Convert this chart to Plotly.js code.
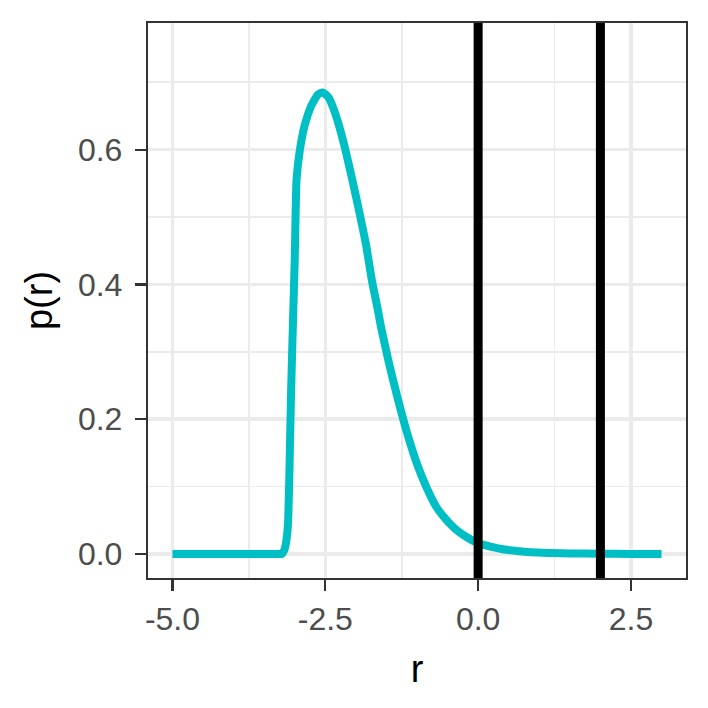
<!DOCTYPE html>
<html>
<head>
<meta charset="utf-8">
<script src="https://cdn.plot.ly/plotly-3.0.1.min.js"></script>
<style>html,body{margin:0;padding:0;background:#fff;}#chart{width:708px;height:708px;}</style>
</head>
<body>
<div id="chart"></div>
<script>
// Density curve p(r)
var rValues = [-5, -4.5, -4, -3.6, -3.3, -3.21, -3.17, -3.14, -3.11, -3.085, -3.06, -3.03, -3.0, -2.97, -2.92, -2.84, -2.73, -2.62, -2.54, -2.45, -2.37, -2.28, -2.18, -2.06, -1.94, -1.83, -1.74, -1.64, -1.585, -1.45, -1.31, -1.16, -0.985, -0.85, -0.686, -0.58, -0.47, -0.32, -0.17, 0, 0.2, 0.38, 0.8, 1.5, 2, 2.5, 3];
var pValues = [0, 0, 0, 0, 0, 0, 0.006, 0.018, 0.045, 0.13, 0.239, 0.34, 0.437, 0.556, 0.597, 0.635, 0.665, 0.682, 0.685, 0.678, 0.662, 0.637, 0.603, 0.556, 0.506, 0.457, 0.407, 0.362, 0.335, 0.28, 0.229, 0.179, 0.130, 0.100, 0.070, 0.057, 0.0456, 0.033, 0.024, 0.016, 0.011, 0.0074, 0.003, 0.0008, 0.0003, 0.0001, 0];
// Vertical reference lines
var vlineX = [0, 2];
// Ticks
var xTickVals = [-5, -2.5, 0, 2.5];
var xTickText = ["-5.0", "-2.5", "0.0", "2.5"];
var yTickVals = [0, 0.2, 0.4, 0.6];
var yTickText = ["0.0", "0.2", "0.4", "0.6"];
var xMinorVals = [-3.75, -1.25, 1.25];
var yMinorVals = [0.1, 0.3, 0.5, 0.7];

var font = "Liberation Sans, Arial, sans-serif";
var trace = {
  x: rValues, y: pValues, type: "scatter", mode: "lines",
  line: {color: "#00BFC4", width: 8, shape: "spline", smoothing: 0.5},
  hoverinfo: "skip", showlegend: false
};
var shapes = vlineX.map(function (v) {
  return {type: "line", xref: "x", yref: "paper", x0: v, x1: v, y0: 0, y1: 1,
          line: {color: "#000000", width: 9}, layer: "above"};
});
var layout = {
  width: 708, height: 708,
  margin: {l: 148, r: 22, t: 23, b: 130},
  paper_bgcolor: "#ffffff", plot_bgcolor: "#ffffff",
  font: {family: font, color: "#4D4D4D"},
  showlegend: false,
  shapes: shapes,
  xaxis: {
    range: [-5.4, 3.4], tickmode: "array", tickvals: xTickVals, ticktext: xTickText,
    ticks: "outside", ticklen: 11, tickwidth: 2.2, tickcolor: "#333333",
    tickfont: {size: 32, color: "#4D4D4D", family: font},
    showgrid: true, gridcolor: "#EBEBEB", gridwidth: 3.5,
    minor: {tickmode: "array", tickvals: xMinorVals, showgrid: true, gridcolor: "#EBEBEB", gridwidth: 1.8, ticks: ""},
    zeroline: false, showline: true, linecolor: "#333333", linewidth: 2.2, mirror: true,
    title: {text: "r", font: {size: 38, color: "#000000", family: font}, standoff: 20},
    automargin: false, fixedrange: true
  },
  yaxis: {
    range: [-0.0357, 0.788], tickmode: "array", tickvals: yTickVals, ticktext: yTickText,
    ticks: "outside", ticklen: 11, tickwidth: 2.2, tickcolor: "#333333",
    tickfont: {size: 32, color: "#4D4D4D", family: font}, ticklabelstandoff: 6,
    showgrid: true, gridcolor: "#EBEBEB", gridwidth: 3.5,
    minor: {tickmode: "array", tickvals: yMinorVals, showgrid: true, gridcolor: "#EBEBEB", gridwidth: 1.8, ticks: ""},
    zeroline: false, showline: true, linecolor: "#333333", linewidth: 2.2, mirror: true,
    title: {text: "p(r)", font: {size: 38, color: "#000000", family: font}, standoff: 14},
    automargin: false, fixedrange: true
  }
};
Plotly.newPlot("chart", [trace], layout, {staticPlot: true, displayModeBar: false});
</script>
</body>
</html>
